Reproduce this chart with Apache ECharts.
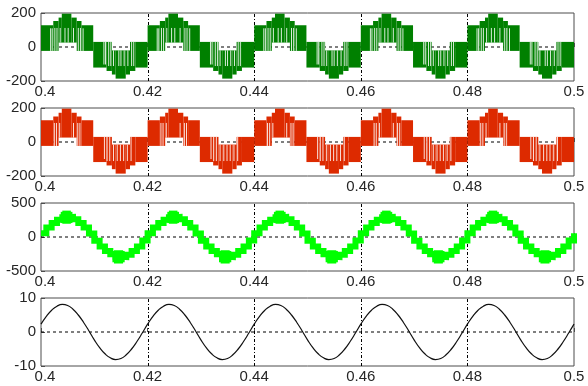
<!DOCTYPE html>
<html>
<head>
<meta charset="utf-8">
<script src="https://cdn.jsdelivr.net/npm/echarts@6/dist/echarts.min.js"></script>
<style>html,body{margin:0;padding:0;background:#fff;}#c{width:588px;height:386px;}</style>
</head>
<body>
<div id="c"></div>
<script>
// ---------- data ----------
const xTicks = [0.4, 0.42, 0.44, 0.46, 0.48, 0.5];
const yRanges = [[-200, 200, 200], [-200, 200, 200], [-500, 500, 500], [-10, 10, 10]];
const gridXs = [0.42, 0.44, 0.46, 0.48];   // dashed vertical grid lines
const gridY = 0;                            // dashed horizontal grid line

// PWM envelope blocks: [tStart, tEnd, low, high]
const greenBlocks = [
 [0.4000,0.4023,-23,128],[0.4023,0.4033,-23,153],[0.4033,0.4039,26,173],[0.4039,0.4057,26,196],[0.4057,0.4067,26,173],[0.4067,0.4076,-23,153],[0.4076,0.4098,-23,128],
 [0.4098,0.4123,-121,30],[0.4123,0.4133,-141,30],[0.4133,0.4140,-162,-20],[0.4140,0.4159,-186,-20],[0.4159,0.4167,-162,-20],[0.4167,0.4177,-141,30],[0.4177,0.4200,-121,30],
 [0.4200,0.4223,-23,128],[0.4223,0.4233,-23,153],[0.4233,0.4239,26,173],[0.4239,0.4257,26,196],[0.4257,0.4267,26,173],[0.4267,0.4276,-23,153],[0.4276,0.4298,-23,128],
 [0.4298,0.4323,-121,30],[0.4323,0.4333,-141,30],[0.4333,0.4340,-162,-20],[0.4340,0.4359,-186,-20],[0.4359,0.4367,-162,-20],[0.4367,0.4377,-141,30],[0.4377,0.4400,-121,30],
 [0.4400,0.4423,-23,128],[0.4423,0.4433,-23,153],[0.4433,0.4439,26,173],[0.4439,0.4457,26,196],[0.4457,0.4467,26,173],[0.4467,0.4476,-23,153],[0.4476,0.4498,-23,128],
 [0.4498,0.4523,-121,30],[0.4523,0.4533,-141,30],[0.4533,0.4540,-162,-20],[0.4540,0.4559,-186,-20],[0.4559,0.4567,-162,-20],[0.4567,0.4577,-141,30],[0.4577,0.4600,-121,30],
 [0.4600,0.4623,-23,128],[0.4623,0.4633,-23,153],[0.4633,0.4639,26,173],[0.4639,0.4657,26,196],[0.4657,0.4667,26,173],[0.4667,0.4676,-23,153],[0.4676,0.4698,-23,128],
 [0.4698,0.4723,-121,30],[0.4723,0.4733,-141,30],[0.4733,0.4740,-162,-20],[0.4740,0.4759,-186,-20],[0.4759,0.4767,-162,-20],[0.4767,0.4777,-141,30],[0.4777,0.4800,-121,30],
 [0.4800,0.4823,-23,128],[0.4823,0.4833,-23,153],[0.4833,0.4839,26,173],[0.4839,0.4857,26,196],[0.4857,0.4867,26,173],[0.4867,0.4876,-23,153],[0.4876,0.4898,-23,128],
 [0.4898,0.4923,-121,30],[0.4923,0.4933,-141,30],[0.4933,0.4940,-162,-20],[0.4940,0.4959,-186,-20],[0.4959,0.4967,-162,-20],[0.4967,0.4977,-141,30],[0.4977,0.5000,-121,30]
];
const greenGapTimes = [
 0.4018,0.4021,0.4026,0.4030,0.4036,0.4045,0.4051,0.4061,0.4070,0.4074,0.4079,
 0.4118,0.4121,0.4127,0.4131,0.4136,0.4146,0.4150,0.4156,0.4163,0.4170,0.4174,
 0.4218,0.4221,0.4226,0.4230,0.4236,0.4245,0.4251,0.4261,0.4270,0.4274,0.4279,
 0.4318,0.4321,0.4327,0.4331,0.4336,0.4346,0.4350,0.4356,0.4363,0.4370,0.4374,
 0.4418,0.4421,0.4426,0.4430,0.4436,0.4445,0.4451,0.4461,0.4470,0.4474,0.4479,
 0.4518,0.4521,0.4527,0.4531,0.4536,0.4546,0.4550,0.4556,0.4563,0.4570,0.4574,
 0.4618,0.4621,0.4626,0.4630,0.4636,0.4645,0.4651,0.4661,0.4670,0.4674,0.4679,
 0.4718,0.4721,0.4727,0.4731,0.4736,0.4746,0.4750,0.4756,0.4763,0.4770,0.4774,
 0.4818,0.4821,0.4826,0.4830,0.4836,0.4845,0.4851,0.4861,0.4870,0.4874,0.4879,
 0.4918,0.4921,0.4927,0.4931,0.4936,0.4946,0.4950,0.4956,0.4963,0.4970,0.4974
];

const redBlocks = [
 [0.4000,0.4023,-23,128],[0.4023,0.4033,-23,150],[0.4033,0.4039,26,172],[0.4039,0.4057,26,196],[0.4057,0.4067,26,172],[0.4067,0.4076,-23,150],[0.4076,0.4098,-23,128],
 [0.4098,0.4123,-118,30],[0.4123,0.4133,-138,30],[0.4133,0.4140,-160,-15],[0.4140,0.4159,-186,-15],[0.4159,0.4167,-160,-15],[0.4167,0.4177,-138,30],[0.4177,0.4200,-118,30],
 [0.4200,0.4223,-23,128],[0.4223,0.4233,-23,150],[0.4233,0.4239,26,172],[0.4239,0.4257,26,196],[0.4257,0.4267,26,172],[0.4267,0.4276,-23,150],[0.4276,0.4298,-23,128],
 [0.4298,0.4323,-118,30],[0.4323,0.4333,-138,30],[0.4333,0.4340,-160,-15],[0.4340,0.4359,-186,-15],[0.4359,0.4367,-160,-15],[0.4367,0.4377,-138,30],[0.4377,0.4400,-118,30],
 [0.4400,0.4423,-23,128],[0.4423,0.4433,-23,150],[0.4433,0.4439,26,172],[0.4439,0.4457,26,196],[0.4457,0.4467,26,172],[0.4467,0.4476,-23,150],[0.4476,0.4498,-23,128],
 [0.4498,0.4523,-118,30],[0.4523,0.4533,-138,30],[0.4533,0.4540,-160,-15],[0.4540,0.4559,-186,-15],[0.4559,0.4567,-160,-15],[0.4567,0.4577,-138,30],[0.4577,0.4600,-118,30],
 [0.4600,0.4623,-23,128],[0.4623,0.4633,-23,150],[0.4633,0.4639,26,172],[0.4639,0.4657,26,196],[0.4657,0.4667,26,172],[0.4667,0.4676,-23,150],[0.4676,0.4698,-23,128],
 [0.4698,0.4723,-118,30],[0.4723,0.4733,-138,30],[0.4733,0.4740,-160,-15],[0.4740,0.4759,-186,-15],[0.4759,0.4767,-160,-15],[0.4767,0.4777,-138,30],[0.4777,0.4800,-118,30],
 [0.4800,0.4823,-23,128],[0.4823,0.4833,-23,150],[0.4833,0.4839,26,172],[0.4839,0.4857,26,196],[0.4857,0.4867,26,172],[0.4867,0.4876,-23,150],[0.4876,0.4898,-23,128],
 [0.4898,0.4923,-118,30],[0.4923,0.4933,-138,30],[0.4933,0.4940,-160,-15],[0.4940,0.4959,-186,-15],[0.4959,0.4967,-160,-15],[0.4967,0.4977,-138,30],[0.4977,0.5000,-118,30]
];
const redGapTimes = [
 0.4025,0.4029,0.4035,0.4061,0.4069,0.4073,
 0.4119,0.4124,0.4129,0.4136,0.4143,0.4149,0.4155,0.4162,0.4169,
 0.4225,0.4229,0.4235,0.4261,0.4269,0.4273,
 0.4319,0.4324,0.4329,0.4336,0.4343,0.4349,0.4355,0.4362,0.4369,
 0.4425,0.4429,0.4435,0.4461,0.4469,0.4473,
 0.4519,0.4524,0.4529,0.4536,0.4543,0.4549,0.4555,0.4562,0.4569,
 0.4625,0.4629,0.4635,0.4661,0.4669,0.4673,
 0.4719,0.4724,0.4729,0.4736,0.4743,0.4749,0.4755,0.4762,0.4769,
 0.4825,0.4829,0.4835,0.4861,0.4869,0.4873,
 0.4919,0.4924,0.4929,0.4936,0.4943,0.4949,0.4955,0.4962,0.4969
];

// staircase (1 ms steps), t = 0.400 ... 0.500
const stairValues = [
 55,140,205,255,290,295,260,205,140,50,-55,-140,-205,-255,-290,-295,-260,-205,-140,-50,
 55,140,205,255,290,295,260,205,140,50,-55,-140,-205,-255,-290,-295,-260,-205,-140,-50,
 55,140,205,255,290,295,260,205,140,50,-55,-140,-205,-255,-290,-295,-260,-205,-140,-50,
 55,140,205,255,290,295,260,205,140,50,-55,-140,-205,-255,-290,-295,-260,-205,-140,-50,
 55,140,205,255,290,295,260,205,140,50,-55,-140,-205,-255,-290,-295,-260,-205,-140,-50,
 55
];
// ripple blobs at the staircase peaks: [tStart, tEnd, low, high]
const stairBlobs = [
 [0.4037,0.4059,205,370],[0.4040,0.4056,195,388],[0.4134,0.4157,-372,-205],[0.4137,0.4154,-390,-195],
 [0.4237,0.4259,205,370],[0.4240,0.4256,195,388],[0.4334,0.4357,-372,-205],[0.4337,0.4354,-390,-195],
 [0.4437,0.4459,205,370],[0.4440,0.4456,195,388],[0.4534,0.4557,-372,-205],[0.4537,0.4554,-390,-195],
 [0.4637,0.4659,205,370],[0.4640,0.4656,195,388],[0.4734,0.4757,-372,-205],[0.4737,0.4754,-390,-195],
 [0.4837,0.4859,205,370],[0.4840,0.4856,195,388],[0.4934,0.4957,-372,-205],[0.4937,0.4954,-390,-195]
];

// sine (1 ms samples), t = 0.400 ... 0.500
const sineValues = [
 2.3,4.6,6.4,7.6,8.1,7.8,6.7,5.0,2.8,0.3,-2.3,-4.6,-6.4,-7.6,-8.1,-7.8,-6.7,-5.0,-2.8,-0.3,
 2.3,4.6,6.4,7.6,8.1,7.8,6.7,5.0,2.8,0.3,-2.3,-4.6,-6.4,-7.6,-8.1,-7.8,-6.7,-5.0,-2.8,-0.3,
 2.3,4.6,6.4,7.6,8.1,7.8,6.7,5.0,2.8,0.3,-2.3,-4.6,-6.4,-7.6,-8.1,-7.8,-6.7,-5.0,-2.8,-0.3,
 2.3,4.6,6.4,7.6,8.1,7.8,6.7,5.0,2.8,0.3,-2.3,-4.6,-6.4,-7.6,-8.1,-7.8,-6.7,-5.0,-2.8,-0.3,
 2.3,4.6,6.4,7.6,8.1,7.8,6.7,5.0,2.8,0.3,-2.3,-4.6,-6.4,-7.6,-8.1,-7.8,-6.7,-5.0,-2.8,-0.3,
 2.3
];
const sampleTimes = sineValues.map((_, k) => +(0.4 + k * 0.001).toFixed(3));

// ---------- build ----------
function gapSegments(blocks, times) {
  const out = [];
  times.forEach(t => {
    const b = blocks.find(b => t >= b[0] && t < b[1]);
    if (!b) return;
    if (b[2] + b[3] > 0) out.push([t, b[2], Math.min(b[3] - 18, 112)]);
    else out.push([t, Math.max(b[2] + 18, -112), b[3]]);
  });
  return out;
}

const FONT = "'Liberation Sans', Arial, sans-serif";
const TXT = '#262626';
const tops = [13, 108, 203, 298];
const H = 68;

const grids = tops.map(t => ({
  left: 41, right: 14, top: t, height: H, show: true,
  borderColor: '#4d4d4d', borderWidth: 1, backgroundColor: '#fff'
}));
const xAxes = tops.map((t, i) => ({
  type: 'value', gridIndex: i, min: xTicks[0], max: xTicks[xTicks.length - 1], interval: 0.02,
  axisLine: { show: false },
  axisTick: { show: true, inside: true, length: 4, lineStyle: { color: '#4d4d4d' } },
  axisLabel: {
    color: TXT, fontFamily: FONT, fontSize: 15, margin: 3, showMinLabel: true, showMaxLabel: true,
    formatter: (v, idx) => idx === 0 ? '{m|' + v + '}' : String(v),
    rich: { m: { color: TXT, fontFamily: FONT, fontSize: 15, padding: [0, 0, 0, 8] } }
  },
  splitLine: { show: false }
}));
const yAxes = yRanges.map((r, i) => ({
  type: 'value', gridIndex: i, min: r[0], max: r[1], interval: r[2],
  axisLine: { show: false },
  axisTick: { show: true, inside: true, length: 4, lineStyle: { color: '#4d4d4d' } },
  axisLabel: { color: TXT, fontFamily: FONT, fontSize: 15, margin: 5, showMinLabel: true, showMaxLabel: true },
  splitLine: { show: false }
}));

function rectSeries(idx, data, color) {
  return {
    type: 'custom', xAxisIndex: idx, yAxisIndex: idx, data: data, clip: true, silent: true,
    encode: { x: [0, 1], y: [2, 3] },
    renderItem: (params, api) => {
      const a = api.coord([api.value(0), api.value(3)]);
      const b = api.coord([api.value(1), api.value(2)]);
      return { type: 'rect', shape: { x: a[0], y: a[1], width: b[0] - a[0], height: b[1] - a[1] },
               style: { fill: color } };
    }
  };
}
function gapSeries(idx, data) {
  return {
    type: 'custom', xAxisIndex: idx, yAxisIndex: idx, data: data, clip: true, silent: true,
    encode: { x: 0, y: [1, 2] },
    renderItem: (params, api) => {
      const a = api.coord([api.value(0), api.value(1)]);
      const b = api.coord([api.value(0), api.value(2)]);
      return { type: 'line', shape: { x1: a[0], y1: a[1], x2: b[0], y2: b[1] },
               style: { stroke: 'rgba(255,255,255,0.85)', lineWidth: 1 } };
    }
  };
}
// dashed grid lines drawn beneath the data of each panel
function gridLineSeries(idx) {
  const r = yRanges[idx];
  return [
    {
      type: 'custom', xAxisIndex: idx, yAxisIndex: idx, data: gridXs, silent: true, z: 1,
      encode: { x: 0 },
      renderItem: (params, api) => {
        const a = api.coord([api.value(0), r[0]]);
        const b = api.coord([api.value(0), r[1]]);
        const x = Math.round(a[0]) + 0.5;
        return { type: 'line', shape: { x1: x, y1: a[1], x2: x, y2: b[1] },
                 style: { stroke: '#000', lineWidth: 1, lineDash: [3, 2, 1, 2] } };
      }
    },
    {
      type: 'line', xAxisIndex: idx, yAxisIndex: idx, silent: true, z: 1, showSymbol: false,
      data: [[xTicks[0], gridY], [xTicks[xTicks.length - 1], gridY]],
      lineStyle: { color: '#000', width: 1, type: [3, 3] }
    }
  ];
}

const option = {
  animation: false,
  backgroundColor: '#fff',
  grid: grids, xAxis: xAxes, yAxis: yAxes,
  series: [
    ...gridLineSeries(0), ...gridLineSeries(1), ...gridLineSeries(2), ...gridLineSeries(3),
    rectSeries(0, greenBlocks, '#008000'),
    gapSeries(0, gapSegments(greenBlocks, greenGapTimes)),
    rectSeries(1, redBlocks, '#dd2a00'),
    gapSeries(1, gapSegments(redBlocks, redGapTimes)),
    {
      type: 'line', xAxisIndex: 2, yAxisIndex: 2, step: 'end', showSymbol: false, silent: true,
      data: sampleTimes.map((t, k) => [t, stairValues[k]]),
      lineStyle: { color: '#00ff00', width: 6, join: 'miter', cap: 'butt' }
    },
    rectSeries(2, stairBlobs, '#00ff00'),
    {
      type: 'line', xAxisIndex: 3, yAxisIndex: 3, smooth: true, showSymbol: false, silent: true,
      data: sampleTimes.map((t, k) => [t, sineValues[k]]),
      lineStyle: { color: '#111', width: 1.2 }
    }
  ]
};
echarts.init(document.getElementById('c'), null, { renderer: 'canvas' }).setOption(option);
</script>
</body>
</html>
